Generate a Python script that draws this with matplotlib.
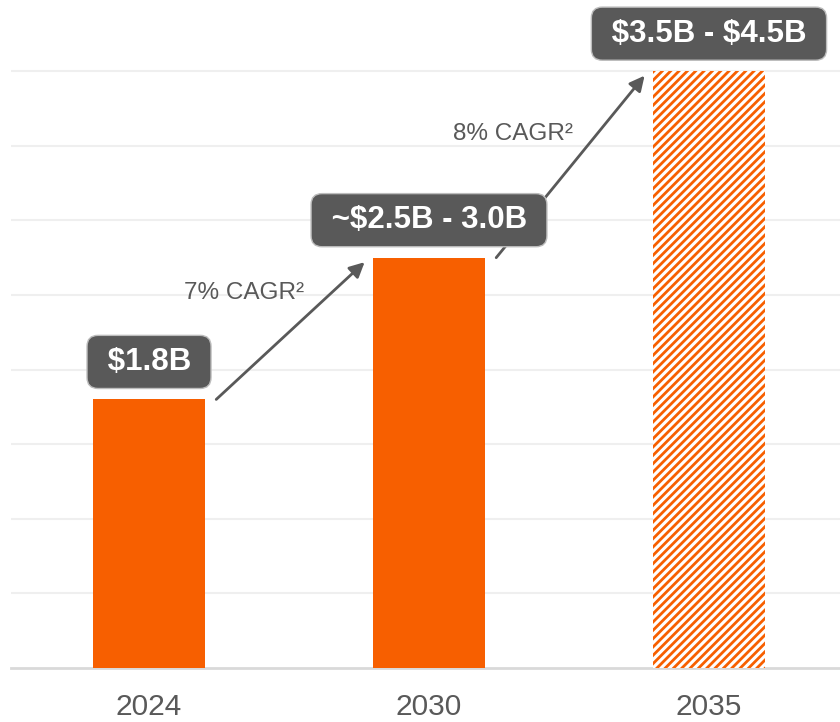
import matplotlib.pyplot as plt

plt.rcParams['font.family'] = ['Liberation Sans', 'DejaVu Sans']
plt.rcParams['hatch.linewidth'] = 2.0

# data
years = ['2024', '2030', '2035']
values = [1.8, 2.75, 4.0]
labels = [r'\$1.8B', r'~\$2.5B - 3.0B', r'\$3.5B - \$4.5B']
cagr = ['7% CAGR²', '8% CAGR²']
cagr_pos = [(0.34, 2.51), (1.30, 3.58)]

orange = '#F75F00'
grey = '#595959'
w = 0.4

fig = plt.figure(figsize=(8.4, 7.22), dpi=100)
ax = fig.add_axes([11 / 840, 54 / 722, 829 / 840, 668 / 722])

x = range(len(years))
bars = ax.bar(x, values, width=w, color=orange, zorder=3)
# projected bar is hatched
bars[2].set_facecolor('white')
bars[2].set_edgecolor(orange)
bars[2].set_linewidth(0)
bars[2].set_hatch('////')

ax.set_xlim(-0.493, 2.468)
ax.set_ylim(0, 4.477)
ax.set_yticks([i * 0.5 for i in range(1, 9)])
ax.yaxis.grid(True, color='#EFEFEF', linewidth=1.5, zorder=0)
ax.set_axisbelow(True)
ax.tick_params(axis='y', left=False, labelleft=False)
ax.set_xticks(list(x))
ax.set_xticklabels(years, fontsize=21.5, color=grey)
ax.tick_params(axis='x', length=0, pad=18)
for s in ['top', 'right', 'left']:
    ax.spines[s].set_visible(False)
ax.spines['bottom'].set_color('#D9D9D9')
ax.spines['bottom'].set_linewidth(2)

# value boxes
for i, (v, lab) in enumerate(zip(values, labels)):
    ax.annotate(' ' + lab + ' ', (i, v), xytext=(0, 27), textcoords='offset points',
                ha='center', va='center', fontsize=22.5, fontweight='bold',
                color='white', zorder=5,
                bbox=dict(boxstyle='round,pad=0.37,rounding_size=0.35',
                          fc=grey, ec='#BDBDBD', lw=1))

# growth arrows
for i in range(len(values) - 1):
    start = (i + w / 2 + 0.04, values[i])
    end = (i + 1 - w / 2 - 0.03, values[i + 1] - 0.03)
    ax.annotate('', xy=end, xytext=start,
                arrowprops=dict(arrowstyle='-|>,head_length=0.9,head_width=0.45',
                                color=grey, lw=2, shrinkA=0, shrinkB=0), zorder=4)
    ax.text(cagr_pos[i][0], cagr_pos[i][1], cagr[i], ha='center', va='center',
            fontsize=17.5, color=grey, zorder=4)

fig.savefig('out.png', dpi=100)
